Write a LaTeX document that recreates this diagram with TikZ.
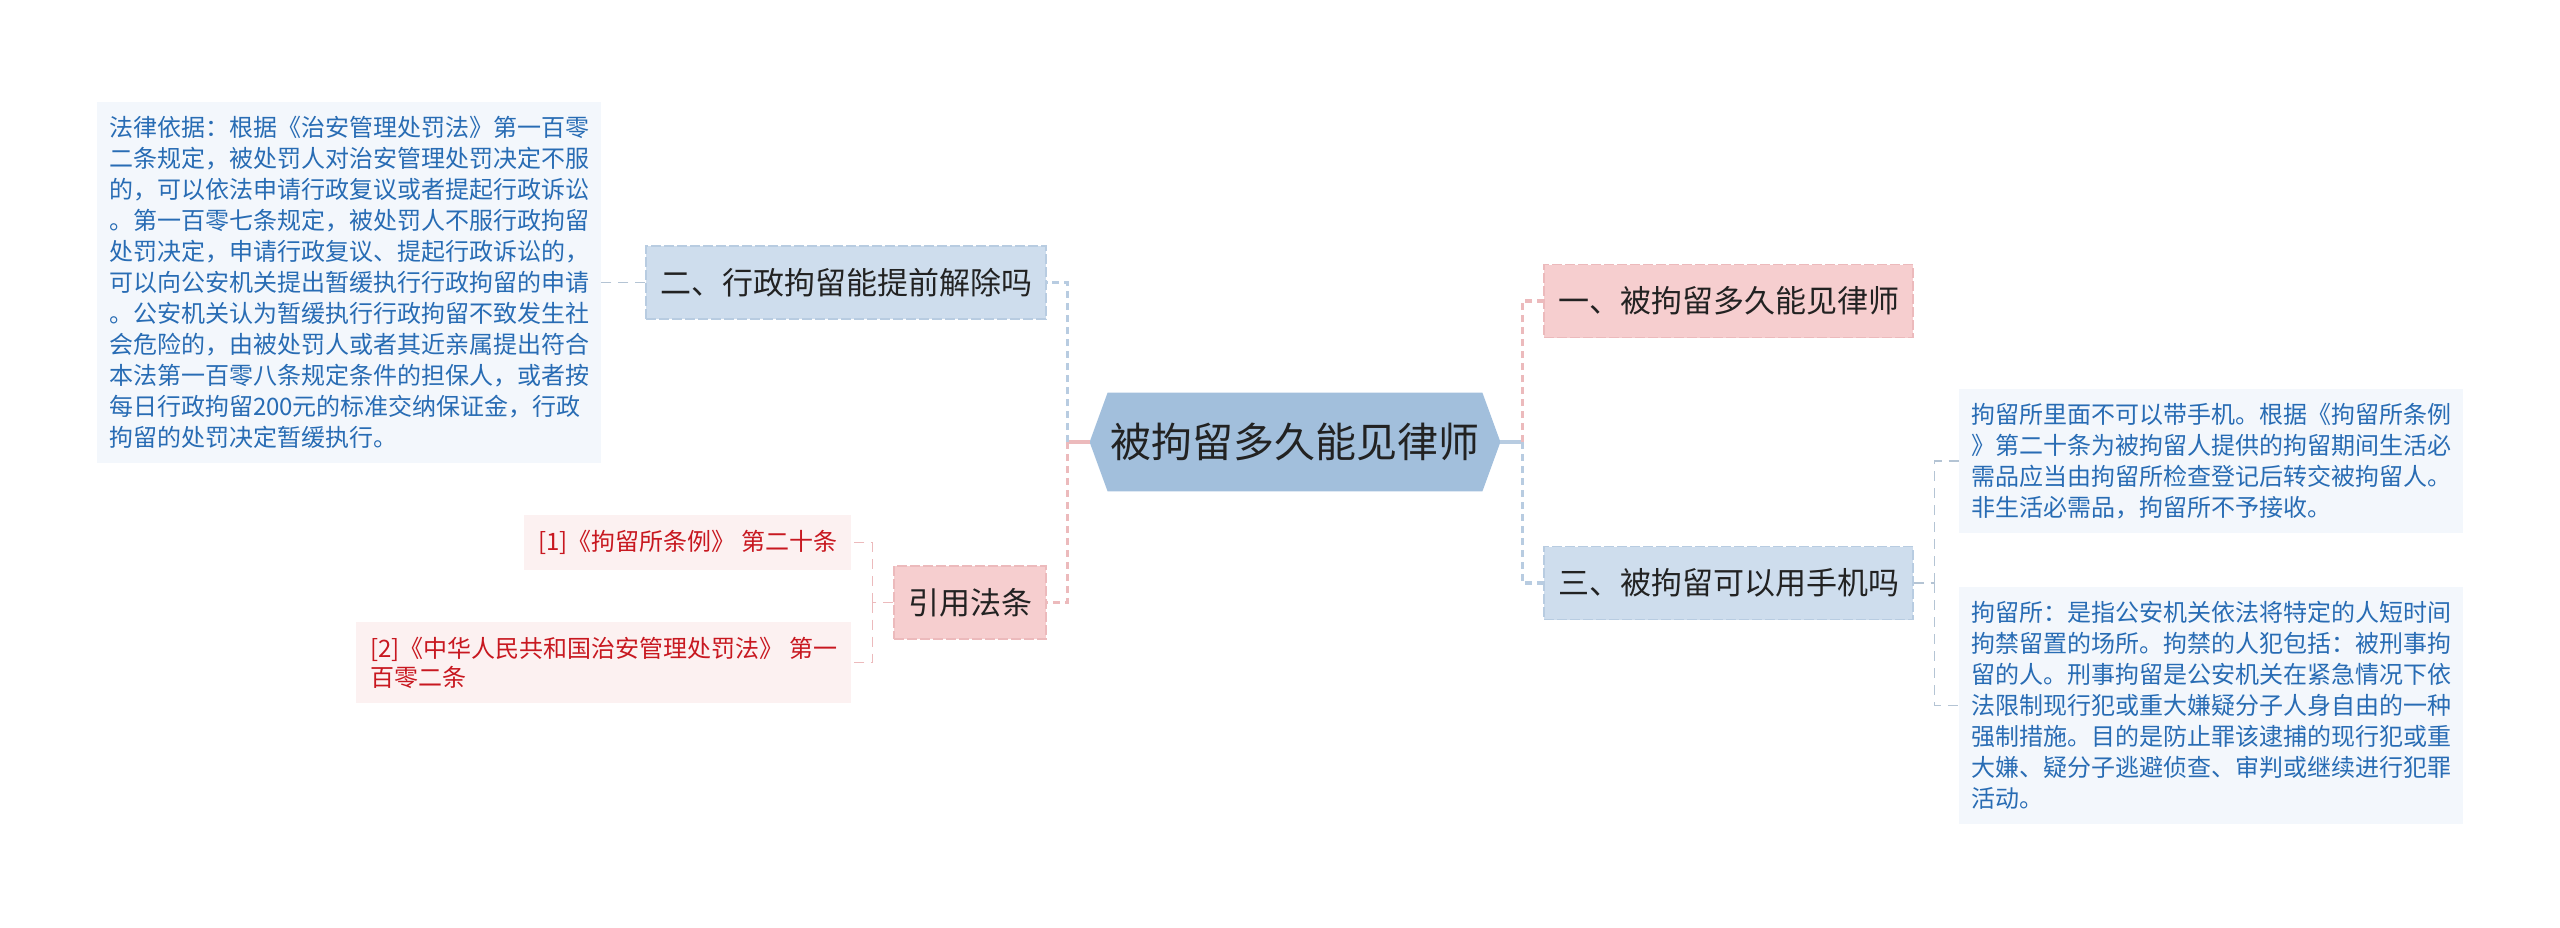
\documentclass[tikz,border=0pt]{standalone}
\usepackage{fontspec}
\setmainfont{Noto Sans CJK SC}
\usetikzlibrary{positioning,backgrounds}
\definecolor{hubblue}{RGB}{162,191,220}
\definecolor{rosefill}{RGB}{246,206,207}
\definecolor{roseline}{RGB}{236,186,188}
\definecolor{skyfill}{RGB}{206,221,237}
\definecolor{skyline}{RGB}{184,204,225}
\definecolor{notefill}{RGB}{243,247,252}
\definecolor{notetext}{RGB}{40,108,180}
\definecolor{citefill}{RGB}{252,241,241}
\definecolor{citetext}{RGB}{200,24,32}
\definecolor{inkgray}{RGB}{34,34,34}
\definecolor{twiggray}{RGB}{180,196,212}

\tikzset{
  branch/.style={draw,dash pattern=on 5pt off 1.5pt,line width=0.6pt,minimum height=36.5pt,inner xsep=7pt,text=inkgray,font=\fontsize{15.5pt}{18pt}\selectfont},
  rosebranch/.style={branch,fill=rosefill,draw=roseline},
  skybranch/.style={branch,fill=skyfill,draw=skyline},
  note/.style={fill=notefill,text=notetext,align=left,inner xsep=6pt,inner ysep=7pt,font=\fontsize{12pt}{15.5pt}\selectfont},
  cite/.style={fill=citefill,text=citetext,align=left,inner xsep=7pt,inner ysep=7.5pt,font=\fontsize{12pt}{14.5pt}\selectfont},
  trunk/.style={line width=1.6pt,dash pattern=on 3.5pt off 2.5pt},
  twig/.style={line width=0.7pt,dash pattern=on 5pt off 3.5pt},
}

\begin{document}
\begin{tikzpicture}
  \useasboundingbox (0,0) rectangle (1280pt,-463.5pt);
  \node[minimum width=205pt,minimum height=49pt,inner sep=0pt,text=inkgray,font=\fontsize{20.5pt}{24pt}\selectfont] (hub) at (647.5pt,-221pt) {被拘留多久能见律师};

  % right half
  \node[rosebranch,right=21.5pt of hub,yshift=70.5pt] (one) {一、被拘留多久能见律师};
  \node[skybranch,right=21.5pt of hub,yshift=-70.5pt] (three) {三、被拘留可以用手机吗};
  \node[note,right=22.5pt of three,yshift=61pt] (phone) {拘留所里面不可以带手机。根据《拘留所条例\\》第二十条为被拘留人提供的拘留期间生活必\\需品应当由拘留所检查登记后转交被拘留人。\\非生活必需品，拘留所不予接收。};
  \node[note,right=22.5pt of three,yshift=-61.25pt] (jail) {拘留所：是指公安机关依法将特定的人短时间\\拘禁留置的场所。拘禁的人犯包括：被刑事拘\\留的人。刑事拘留是公安机关在紧急情况下依\\法限制现行犯或重大嫌疑分子人身自由的一种\\强制措施。目的是防止罪该逮捕的现行犯或重\\大嫌、疑分子逃避侦查、审判或继续进行犯罪\\活动。};

  % left half
  \node[skybranch,left=21.5pt of hub,yshift=79.75pt] (two) {二、行政拘留能提前解除吗};
  \node[rosebranch,left=21.5pt of hub,yshift=-80.25pt] (cites) {引用法条};
  \node[note,left=22pt of two] (basis) {法律依据：根据《治安管理处罚法》第一百零\\二条规定，被处罚人对治安管理处罚决定不服\\的，可以依法申请行政复议或者提起行政诉讼\\。第一百零七条规定，被处罚人不服行政拘留\\处罚决定，申请行政复议、提起行政诉讼的，\\可以向公安机关提出暂缓执行行政拘留的申请\\。公安机关认为暂缓执行行政拘留不致发生社\\会危险的，由被处罚人或者其近亲属提出符合\\本法第一百零八条规定条件的担保人，或者按\\每日行政拘留200元的标准交纳保证金，行政\\拘留的处罚决定暂缓执行。};
  \node[cite,left=21pt of cites,yshift=30pt] (cite1) {[1]《拘留所条例》 第二十条};
  \node[cite,left=21pt of cites,yshift=-30pt] (cite2) {[2]《中华人民共和国治安管理处罚法》 第一\\百零二条};

  % hexagon behind the title
  \begin{scope}[on background layer]
    \fill[hubblue] (hub.west) -- ([xshift=9pt]hub.north west) -- ([xshift=-9pt]hub.north east) -- (hub.east) -- ([xshift=-9pt]hub.south east) -- ([xshift=9pt]hub.south west) -- cycle;
  \end{scope}

  % connectors
  \draw[line width=1.6pt,roseline] (hub.west) -- ++(-11pt,0) coordinate (lj);
  \draw[trunk,skyline] (lj) |- (two.east);
  \draw[trunk,roseline] (lj) |- (cites.east);
  \draw[line width=1.6pt,skyline] (hub.east) -- ++(11pt,0) coordinate (rj);
  \draw[trunk,roseline] (rj) |- (one.west);
  \draw[trunk,skyline] (rj) |- (three.west);

  \draw[twig,twiggray] (two.west) -- (basis.east);
  \draw[twig,twiggray] (three.east) -- ++(10.5pt,0) coordinate (tj);
  \draw[twig,twiggray] (tj) |- (phone.west);
  \draw[twig,twiggray] (tj) |- (jail.west);
  \draw[twig,roseline] (cites.west) -- ++(-10.5pt,0) coordinate (cj);
  \draw[twig,roseline] (cj) |- (cite1.east);
  \draw[twig,roseline] (cj) |- (cite2.east);
\end{tikzpicture}
\end{document}
